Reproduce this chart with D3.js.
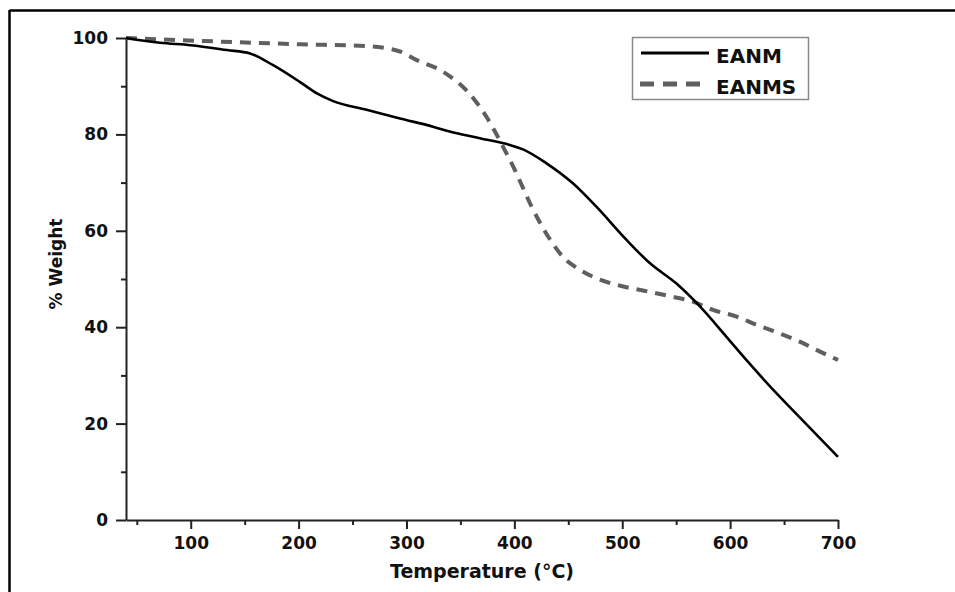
<!DOCTYPE html>
<html>
<head>
<meta charset="utf-8">
<script src="https://cdn.jsdelivr.net/npm/d3@7"></script>
<style>
  html, body { margin: 0; padding: 0; background: #fff; }
  svg { display: block; font-family: "DejaVu Sans", sans-serif; font-weight: bold; }
</style>
</head>
<body>
<svg id="chart" width="955" height="592"></svg>
<script>
// ---- data ----
const seriesNames = ["EANM", "EANMS"];
const eanmT = [40, 71.5, 100, 133.6, 155, 176, 201, 217, 232, 263, 294, 324.6, 340, 368, 395.8, 408, 429.8, 454, 476, 504, 525.5, 550, 572, 596.6, 615, 640, 658, 700];
const eanmW = [100, 99.0, 98.5, 97.5, 96.8, 94.4, 90.9, 88.5, 86.9, 85.1, 83.3, 81.6, 80.6, 79.2, 77.8, 76.9, 74.0, 69.9, 65.0, 58.1, 53.3, 49.1, 44.3, 38.0, 33.2, 27.0, 22.8, 13.1];
const eanmsT = [40, 108.6, 201, 263, 294, 309.6, 334, 363.4, 374, 382, 391, 400.5, 408, 416, 425, 434.5, 445, 460.7, 480, 502, 524, 547, 565.5, 584, 606, 624.5, 646, 664.5, 680, 700];
const eanmsW = [100, 99.4, 98.7, 98.3, 97.2, 95.4, 93.0, 87.1, 83.7, 80.6, 76.8, 72.6, 68.9, 65.0, 61.2, 57.7, 54.6, 51.9, 49.8, 48.4, 47.4, 46.3, 45.3, 43.6, 42.2, 40.5, 38.7, 37.0, 35.3, 33.2];
const xMajorTicks = [100, 200, 300, 400, 500, 600, 700];
const xMinorTicks = [50, 150, 250, 350, 450, 550, 650];
const yMajorTicks = [0, 20, 40, 60, 80, 100];
const yMinorTicks = [10, 30, 50, 70, 90];
const xTitle = "Temperature (°C)";
const yTitle = "% Weight";

// ---- layout ----
const svg = d3.select("#chart");
const plotL = 126, plotR = 838, plotT = 38, plotB = 520;
const x = d3.scaleLinear().domain([40, 700]).range([plotL, plotR]);
const y = d3.scaleLinear().domain([0, 100]).range([plotB, plotT]);
const font = "'DejaVu Sans', sans-serif";

// frame (top and left edges)
svg.append("line").attr("x1", 9.5).attr("x2", 955).attr("y1", 10.5).attr("y2", 10.5)
  .attr("stroke", "#000").attr("stroke-width", 2.5);
svg.append("line").attr("x1", 9.5).attr("x2", 9.5).attr("y1", 10).attr("y2", 592)
  .attr("stroke", "#000").attr("stroke-width", 2.5);

// axes
const axisColor = "#222";
const xAxis = svg.append("g").attr("transform", `translate(0,${plotB})`)
  .call(d3.axisBottom(x).tickValues(xMajorTicks).tickSize(9).tickPadding(8).tickSizeOuter(0));
const xMinor = svg.append("g").attr("transform", `translate(0,${plotB})`)
  .call(d3.axisBottom(x).tickValues(xMinorTicks).tickSize(5).tickFormat("").tickSizeOuter(0));
const yAxis = svg.append("g").attr("transform", `translate(${plotL},0)`)
  .call(d3.axisLeft(y).tickValues(yMajorTicks).tickSize(10).tickPadding(8).tickSizeOuter(0));
const yMinor = svg.append("g").attr("transform", `translate(${plotL},0)`)
  .call(d3.axisLeft(y).tickValues(yMinorTicks).tickSize(5).tickFormat("").tickSizeOuter(0));

[xAxis, xMinor, yAxis, yMinor].forEach(g => {
  g.select(".domain").attr("stroke", axisColor).attr("stroke-width", 2);
  g.selectAll(".tick line").attr("stroke", axisColor).attr("stroke-width", 2);
  g.selectAll(".tick text").attr("fill", "#111").attr("font-size", 17)
    .attr("font-family", font).attr("font-weight", "bold");
});
xMinor.select(".domain").remove();
yMinor.select(".domain").remove();

// axis titles
svg.append("text").attr("x", 482).attr("y", 578).attr("text-anchor", "middle")
  .attr("font-size", 19).attr("fill", "#111").text(xTitle);
svg.append("text").attr("transform", "translate(62,264) rotate(-90)").attr("text-anchor", "middle")
  .attr("font-size", 17).attr("fill", "#111").text(yTitle);

// lines
const line = d3.line().x(d => x(d[0])).y(d => y(d[1])).curve(d3.curveMonotoneX);
const eanm = eanmT.map((t, i) => [t, eanmW[i]]);
const eanms = eanmsT.map((t, i) => [t, eanmsW[i]]);

svg.append("path").datum(eanms).attr("d", line).attr("fill", "none")
  .attr("stroke", "#5f5f5f").attr("stroke-width", 4).attr("stroke-dasharray", "11,8");
svg.append("path").datum(eanm).attr("d", line).attr("fill", "none")
  .attr("stroke", "#000").attr("stroke-width", 2.6);

// legend
const lg = svg.append("g");
lg.append("rect").attr("x", 632.5).attr("y", 37.5).attr("width", 176).attr("height", 62)
  .attr("fill", "#fff").attr("stroke", "#8a8a8a").attr("stroke-width", 1.5);
lg.append("line").attr("x1", 641).attr("x2", 709).attr("y1", 53).attr("y2", 53)
  .attr("stroke", "#000").attr("stroke-width", 3);
lg.append("line").attr("x1", 640).attr("x2", 700).attr("y1", 84).attr("y2", 84)
  .attr("stroke", "#5f5f5f").attr("stroke-width", 5).attr("stroke-dasharray", "14,9");
lg.append("text").attr("x", 716).attr("y", 63).attr("font-size", 20).attr("fill", "#111").text(seriesNames[0]);
lg.append("text").attr("x", 716).attr("y", 94).attr("font-size", 20).attr("fill", "#111").text(seriesNames[1]);
</script>
</body>
</html>
